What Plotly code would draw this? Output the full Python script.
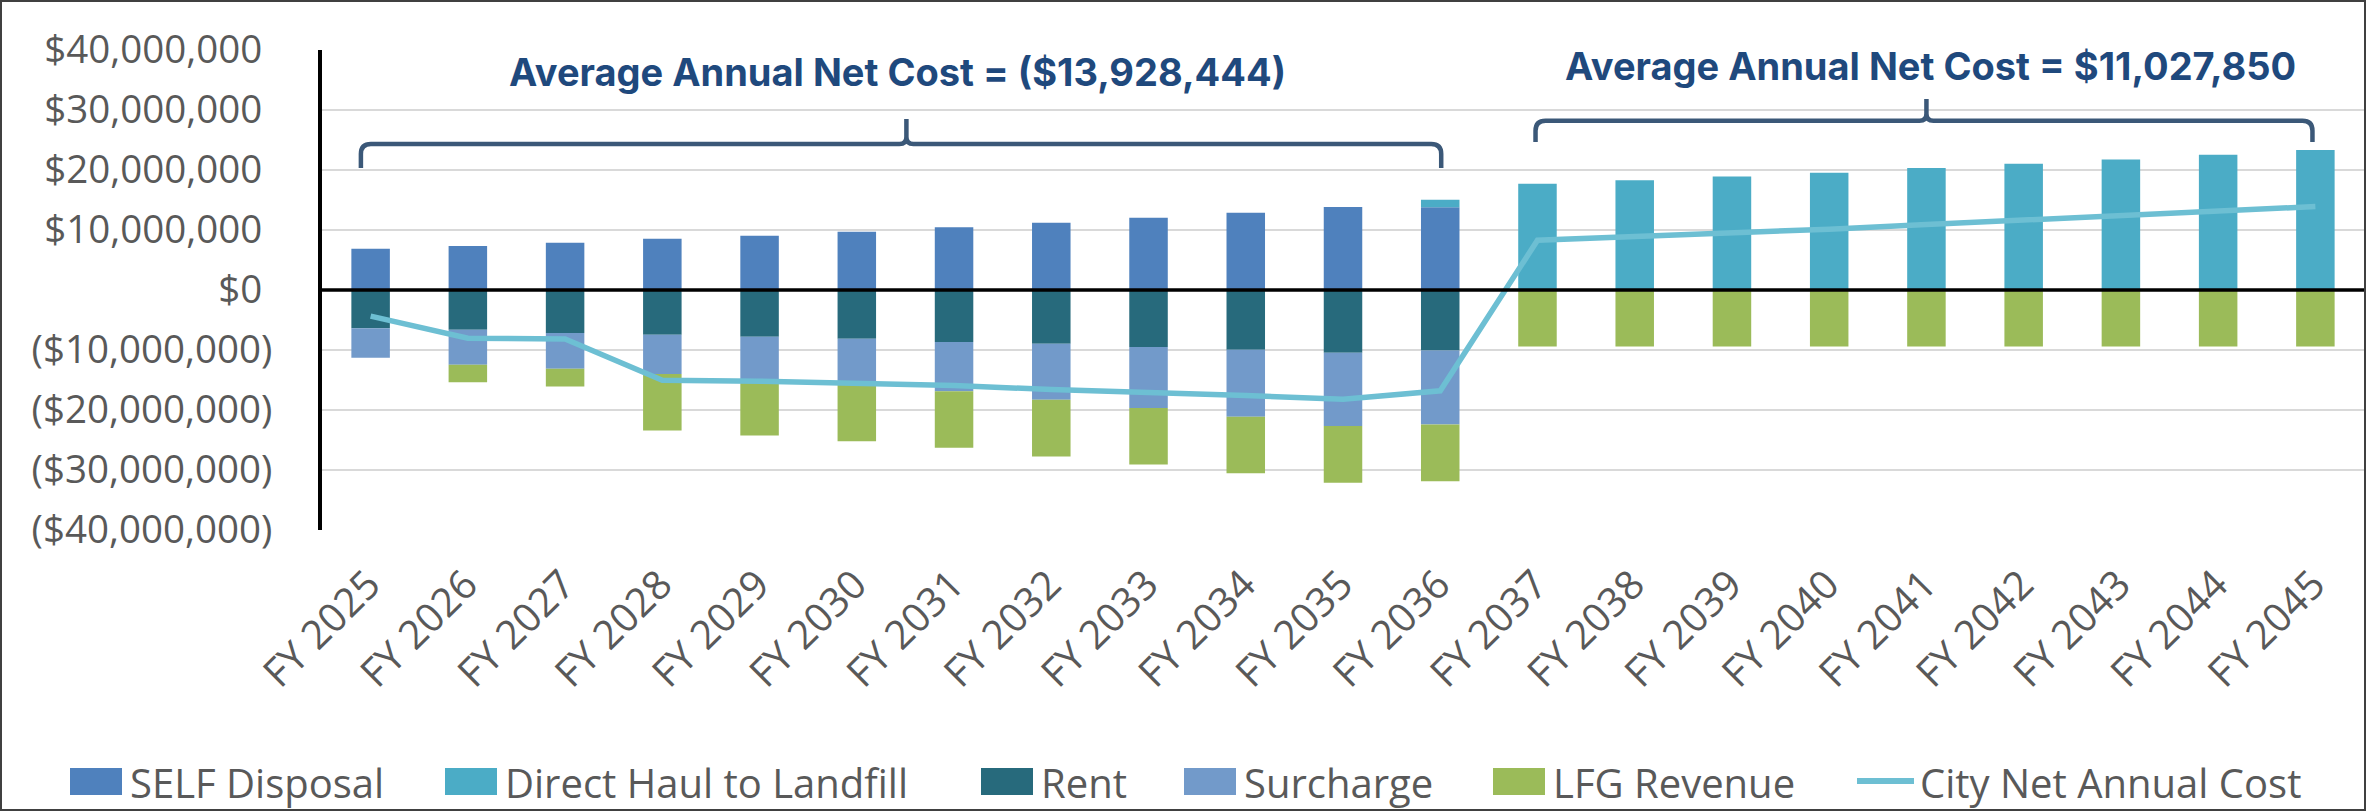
import plotly.graph_objects as go

# ---------------- data (values in $ millions) ----------------
categories = ["FY 2025", "FY 2026", "FY 2027", "FY 2028", "FY 2029", "FY 2030", "FY 2031",
              "FY 2032", "FY 2033", "FY 2034", "FY 2035", "FY 2036", "FY 2037", "FY 2038",
              "FY 2039", "FY 2040", "FY 2041", "FY 2042", "FY 2043", "FY 2044", "FY 2045"]

self_disposal = [6.88, 7.33, 7.87, 8.53, 9.06, 9.72, 10.44, 11.21, 12.05, 12.88, 13.83, 13.80,
                 None, None, None, None, None, None, None, None, None]
direct_haul = [None, None, None, None, None, None, None, None, None, None, None, 1.23,
               17.71, 18.31, 18.90, 19.56, 20.33, 21.05, 21.77, 22.54, 23.32]
rent = [-6.38, -6.62, -7.16, -7.45, -7.81, -8.11, -8.65, -8.94, -9.48, -9.96, -10.44, -10.08,
        None, None, None, None, None, None, None, None, None]
surcharge = [-4.90, -5.84, -5.96, -6.56, -7.04, -7.69, -8.23, -9.37, -10.20, -11.15, -12.22, -12.33,
             None, None, None, None, None, None, None, None, None]
lfg_revenue = [None, -2.92, -2.98, -9.42, -9.42, -9.42, -9.42, -9.42, -9.42, -9.42, -9.48, -9.45,
               -9.42, -9.42, -9.42, -9.42, -9.42, -9.42, -9.42, -9.42, -9.42]
city_net = [-4.35, -8.05, -8.17, -15.03, -15.20, -15.50, -15.90, -16.60, -17.00, -17.60, -18.20, -16.80,
            8.29, 8.89, 9.48, 10.14, 10.91, 11.63, 12.35, 13.12, 13.90]

y_ticks = [-40, -30, -20, -10, 0, 10, 20, 30, 40]

series_names = ["SELF Disposal", "Direct Haul to Landfill", "Rent", "Surcharge", "LFG Revenue",
                "City Net Annual Cost"]
avg_labels = ["Average Annual Net Cost = ($13,928,444)", "Average Annual Net Cost = $11,027,850"]

# ---------------- styling ----------------
colors = ["#4F81BD", "#4BACC6", "#276A7C", "#729ACA", "#9BBB59", "#6DBFD3"]
GRAY = "#595959"
NAVY = "#1F497D"
BRACE = "#3B5878"
FONT = "Open Sans"

W, H = 2366, 811
L, R, T, B = 322, 2, 50, 281
PW, PH = W - L - R, H - T - B


def px_x(px):
    return (px - L) / PW


def px_y(py):
    return (T + PH - py) / PH


def m(v):
    return None if v is None else v * 1e6


xs = list(range(len(categories)))

fig = go.Figure()
bar_series = [self_disposal, direct_haul, rent, surcharge, lfg_revenue]
for name, vals, col in zip(series_names[:5], bar_series, colors[:5]):
    fig.add_trace(go.Bar(x=xs, y=[m(v) for v in vals], name=name,
                         marker=dict(color=col, line=dict(width=0)), showlegend=False))
fig.add_trace(go.Scatter(x=xs, y=[m(v) for v in city_net], name=series_names[5], mode="lines",
                         line=dict(color=colors[5], width=5.5), showlegend=False))


def fmt(v):
    if v < 0:
        return "(${:,.0f})".format(-v * 1e6)
    return "${:,.0f}\u00a0".format(v * 1e6)


shapes = []

# zero line
shapes.append(dict(type="line", xref="paper", yref="y", x0=0, x1=1, y0=0, y1=0,
                   line=dict(color="black", width=3.5), layer="above"))


def brace(x0, x1, xm, yb, yh, yt, rpx=10, tpx=7):
    rx = rpx / (PW / len(categories))
    ry = rpx * 1e7 / 60
    trx = tpx / (PW / len(categories))
    tr_y = tpx * 1e7 / 60
    yb, yh, yt = yb * 1e6, yh * 1e6, yt * 1e6
    p = (f"M {x0},{yb} L {x0},{yh - ry} Q {x0},{yh} {x0 + rx},{yh} "
         f"L {xm - trx},{yh} Q {xm},{yh} {xm},{yh + tr_y} L {xm},{yt} "
         f"L {xm},{yh + tr_y} Q {xm},{yh} {xm + trx},{yh} "
         f"L {x1 - rx},{yh} Q {x1},{yh} {x1},{yh - ry} L {x1},{yb}")
    return dict(type="path", xref="x", yref="y", path=p, line=dict(color=BRACE, width=4.5),
                layer="above")


shapes.append(brace(-0.10, 11.01, 5.51, 20.33, 24.33, 28.5))
shapes.append(brace(11.98, 19.97, 16.0, 24.67, 28.2, 31.83))

# figure border
shapes.append(dict(type="rect", xref="paper", yref="paper",
                   x0=px_x(1), x1=px_x(W - 1), y0=px_y(H - 1), y1=px_y(1),
                   line=dict(color="#404040", width=2), fillcolor="rgba(0,0,0,0)", layer="above"))

annotations = []
annotations.append(dict(text=avg_labels[0], xref="paper", yref="paper", x=px_x(897), y=px_y(72),
                        xanchor="center", yanchor="middle", showarrow=False,
                        font=dict(family="Inter", size=38, color=NAVY, weight="bold")))
annotations.append(dict(text=avg_labels[1], xref="paper", yref="paper", x=px_x(1930), y=px_y(66),
                        xanchor="center", yanchor="middle", showarrow=False,
                        font=dict(family="Inter", size=38, color=NAVY, weight="bold")))

# custom legend
legend_x = [70, 445, 981, 1184, 1493, 1857]
box_w = 52
ly0, ly1 = 768, 795
ly_mid = 782
for i, (name, col) in enumerate(zip(series_names, colors)):
    x0 = legend_x[i]
    if i < 5:
        shapes.append(dict(type="rect", xref="paper", yref="paper",
                           x0=px_x(x0), x1=px_x(x0 + box_w), y0=px_y(ly1), y1=px_y(ly0),
                           fillcolor=col, line=dict(width=0)))
        tx = x0 + box_w + 6
    else:
        shapes.append(dict(type="line", xref="paper", yref="paper",
                           x0=px_x(x0), x1=px_x(x0 + 57), y0=px_y(781), y1=px_y(781),
                           line=dict(color=col, width=6)))
        tx = x0 + 61
    annotations.append(dict(text=name, xref="paper", yref="paper", x=px_x(tx), y=px_y(ly_mid),
                            xanchor="left", yanchor="middle", showarrow=False,
                            font=dict(family=FONT, size=40, color=GRAY)))

fig.update_layout(
    width=W, height=H,
    margin=dict(l=L, r=R, t=T, b=B, pad=0),
    paper_bgcolor="white", plot_bgcolor="white",
    barmode="relative", bargap=0.604,
    showlegend=False,
    shapes=shapes, annotations=annotations,
    font=dict(family=FONT, color=GRAY),
    xaxis=dict(type="linear", range=[-0.5, len(categories) - 0.5], tickvals=xs, ticktext=categories,
               tickangle=-45, tickfont=dict(family=FONT, size=40, color=GRAY),
               showgrid=False, zeroline=False, showline=False, ticks="", automargin=False,
               ticklabelstandoff=22, ticklabelshift=-2),
    yaxis=dict(range=[-40e6, 40e6], tickvals=[v * 1e6 for v in y_ticks],
               ticktext=[fmt(v) for v in y_ticks],
               tickfont=dict(family=FONT, size=38.5, color=GRAY),
               showgrid=True, gridcolor="#D9D9D9", gridwidth=2, zeroline=False,
               showline=True, linecolor="black", linewidth=4, ticks="", automargin=False,
               ticklabelstandoff=38, layer="above traces"),
)

fig.write_html("out.html", config={"displayModeBar": False},
               post_script="document.body.style.margin='0';document.body.style.overflow='hidden';")
